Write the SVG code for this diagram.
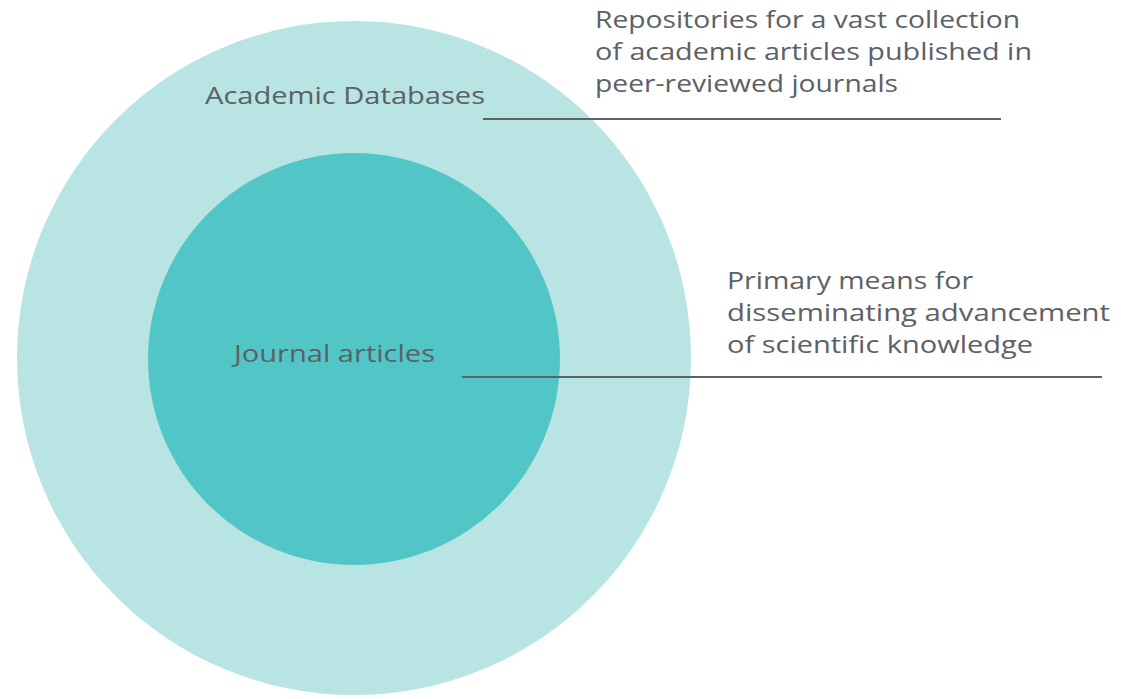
<svg xmlns="http://www.w3.org/2000/svg" width="1121" height="699" viewBox="0 0 1121 699">
<style>
.t{font-family:"Open Sans","Liberation Sans",sans-serif;font-size:24px;fill:#5d6064;}
.c{stroke:#5f6266;stroke-width:2;fill:none;}
</style>
<rect width="1121" height="699" fill="#ffffff"/>
<g id="academic-databases">
<circle cx="354" cy="358" r="337" fill="#b8e4e3"/>
<text class="t" x="205" y="104" textLength="280" lengthAdjust="spacingAndGlyphs">Academic Databases</text>
</g>
<g id="journal-articles">
<circle cx="354" cy="359" r="206" fill="#52c6c7"/>
<text class="t" x="234" y="362" textLength="201" lengthAdjust="spacingAndGlyphs">Journal articles</text>
</g>
<g id="connectors">
<line class="c" x1="483" y1="119" x2="1001" y2="119"/>
<line class="c" x1="462" y1="377" x2="1102" y2="377"/>
</g>
<g id="desc-databases">
<text class="t" x="595" y="28" textLength="425" lengthAdjust="spacingAndGlyphs">Repositories for a vast collection</text>
<text class="t" x="595" y="60" textLength="437" lengthAdjust="spacingAndGlyphs">of academic articles published in</text>
<text class="t" x="595" y="92" textLength="303" lengthAdjust="spacingAndGlyphs">peer-reviewed journals</text>
</g>
<g id="desc-journals">
<text class="t" x="727" y="289" textLength="246" lengthAdjust="spacingAndGlyphs">Primary means for</text>
<text class="t" x="727" y="321" textLength="383" lengthAdjust="spacingAndGlyphs">disseminating advancement</text>
<text class="t" x="727" y="353" textLength="306" lengthAdjust="spacingAndGlyphs">of scientific knowledge</text>
</g>
</svg>
